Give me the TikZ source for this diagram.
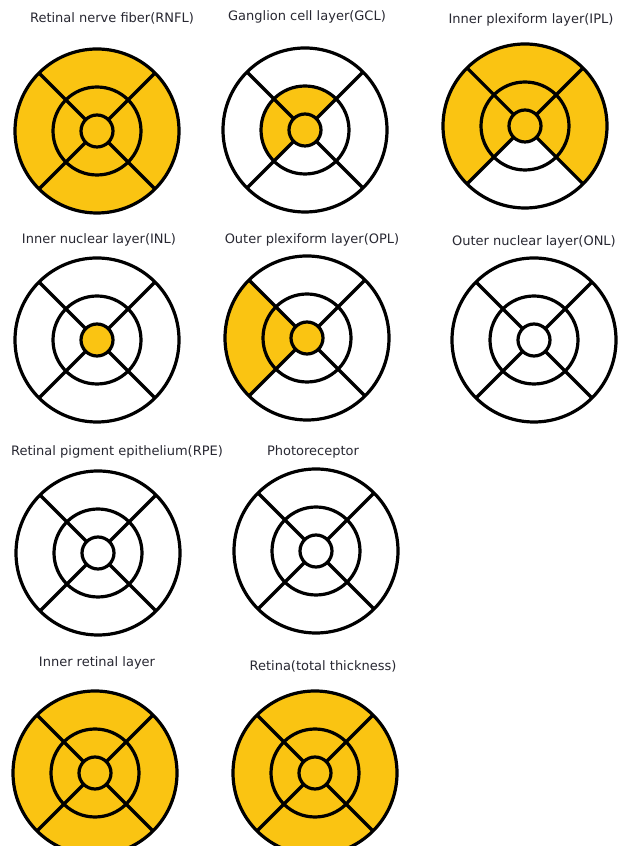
\documentclass[tikz,border=0pt]{standalone}
\usepackage{fontspec}
\setmainfont{DejaVu Sans}
\usetikzlibrary{calc}
\definecolor{gold}{RGB}{250,196,18}
\definecolor{ink}{RGB}{40,40,50}
\tikzset{
  layername/.style={font=\fontsize{13}{15}\selectfont, text=ink, inner sep=0pt},
  ringline/.style={line width=3.2pt, black},
  sector/.style={fill=gold}
}
% filled piece of the rings: centre, inner radius, outer radius, middle angle
\newcommand{\ringpart}[4]{%
  \fill[sector] ($(#1)+(#4-45:#2)$) arc[start angle=#4-45, end angle=#4+45, radius=#2]
    -- ($(#1)+(#4+45:#3)$) arc[start angle=#4+45, end angle=#4-45, radius=#3] -- cycle;}
\newcommand{\centrefill}[1]{\fill[sector] (#1) circle[radius=16pt];}
\newcommand{\chartlines}[1]{%
  \draw[ringline] (#1) circle[radius=82pt] (#1) circle[radius=44pt] (#1) circle[radius=16pt];
  \foreach \a in {45,135,225,315}
    \draw[ringline] ($(#1)+(\a:16pt)$) -- ($(#1)+(\a:82pt)$);}

\begin{document}
\begin{tikzpicture}[x=1pt, y=1pt]
\useasboundingbox (0,0) rectangle (618,846);
\fill[white] (0,0) rectangle (618,846);
\clip (0,0) rectangle (618,846);

% chart centres
\coordinate (rnfl) at (97,715);
\coordinate (gcl) at (305,716);
\coordinate (ipl) at (525,720);
\coordinate (inl) at (97,506);
\coordinate (opl) at (307,508);
\coordinate (onl) at (534,506);
\coordinate (rpe) at (98,293);
\coordinate (photo) at (316,295);
\coordinate (irl) at (95,73);
\coordinate (retina) at (315,73);

% titles
\node[layername] (trnfl) at (112,828) {Retinal nerve fiber(RNFL)};
\node[layername] (tgcl) at (307,829) {Ganglion cell layer(GCL)};
\node[layername] (tipl) at (531,826) {Inner plexiform layer(IPL)};
\node[layername] (tinl) at (99,606) {Inner nuclear layer(INL)};
\node[layername] (topl) at (312,606) {Outer plexiform layer(OPL)};
\node[layername, anchor=east] (tonl) at (616,604) {Outer nuclear layer(ONL)};
\node[layername] (trpe) at (117,394) {Retinal pigment epithelium(RPE)};
\node[layername] (tphoto) at (313,394) {Photoreceptor};
\node[layername] (tirl) at (97,183) {Inner retinal layer};
\node[layername] (tretina) at (323,180) {Retina(total thickness)};

% RNFL
\fill[sector] (rnfl) circle[radius=82pt];
\chartlines{rnfl}
% GCL
\centrefill{gcl}
\ringpart{gcl}{16pt}{44pt}{90}
\ringpart{gcl}{16pt}{44pt}{180}
\chartlines{gcl}
% IPL
\centrefill{ipl}
\ringpart{ipl}{16pt}{82pt}{90}
\ringpart{ipl}{16pt}{82pt}{180}
\ringpart{ipl}{16pt}{82pt}{0}
\chartlines{ipl}
% INL
\centrefill{inl}
\chartlines{inl}
% OPL
\centrefill{opl}
\ringpart{opl}{16pt}{82pt}{180}
\chartlines{opl}
% ONL, RPE, photoreceptor
\chartlines{onl}
\chartlines{rpe}
\chartlines{photo}
% inner retinal layer, retina
\fill[sector] (irl) circle[radius=82pt];
\chartlines{irl}
\fill[sector] (retina) circle[radius=82pt];
\chartlines{retina}
\end{tikzpicture}
\end{document}
